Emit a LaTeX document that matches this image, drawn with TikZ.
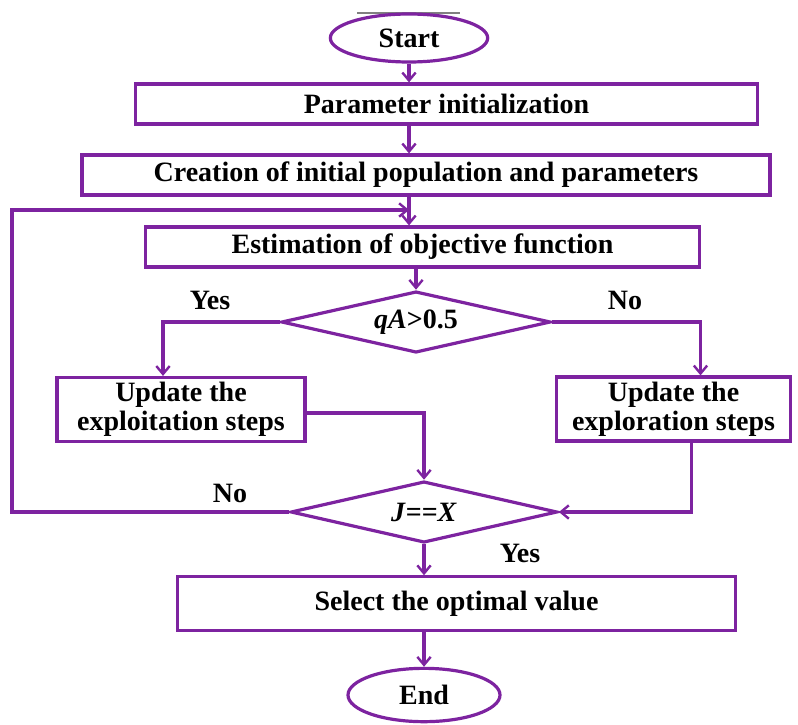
\documentclass[tikz,border=0pt]{standalone}
\usepackage{fontspec}
\setmainfont{Liberation Serif}
\usetikzlibrary{arrows.meta,calc,shapes.geometric}
\definecolor{flowpurple}{RGB}{125,35,160}
\tikzset{
	flowline/.style={draw=flowpurple, line width=2.4pt},
	flowarrow/.style={flowline, -{Straight Barb[length=6pt,width=10pt,line width=1.8pt]}},
	flowbox/.style={flowline, rectangle, inner sep=0pt, align=center, font=\fontsize{21}{22}\selectfont\bfseries},
	term/.style={flowline, ellipse, inner sep=0pt, font=\fontsize{21}{22}\selectfont\bfseries},
	decision/.style={flowline, diamond, aspect=4, inner sep=0pt, font=\fontsize{21}{22}\selectfont\bfseries},
	answer/.style={font=\fontsize{21}{22}\selectfont\bfseries}
}
\begin{document}
\begin{tikzpicture}[x=0.75pt, y=-0.75pt]
			%%%%% START %%%%%
			\useasboundingbox (0, 0) rectangle (798, 724);
			
			\draw[gray, line width=0.8pt] (357, 13) -- (460, 13);
			
			\node[term, minimum width=118pt, minimum height=36pt] (start) at (409, 38) {Start};
			\node[flowbox, minimum width=466pt, minimum height=30pt] (par) at (446.5, 104) {Parameter initialization};
			\node[flowbox, minimum width=516pt, minimum height=30pt] (cre) at (426, 175) {Creation of initial population and parameters};
			\node[flowbox, minimum width=416pt, minimum height=30pt] (est) at (422.5, 247) {Estimation of objective function};
			
			\node[decision, minimum width=202pt, minimum height=46pt] (dec1) at (416, 322) {\textit{qA}\textgreater0.5};
			\node[flowbox, minimum width=186pt, minimum height=48pt] (exploit) at (181, 409.5) {Update the\\exploitation steps};
			\node[flowbox, minimum width=175pt, minimum height=48pt] (explore) at (673.5, 409) {Update the\\exploration steps};
			
			\node[decision, minimum width=200pt, minimum height=46pt] (dec2) at (424, 512) {\textit{J}==\textit{X}};
			\node[flowbox, minimum width=418pt, minimum height=40pt] (sel) at (456.5, 603.5) {Select the optimal value};
			\node[term, minimum width=114pt, minimum height=40pt] (endn) at (424, 695) {End};
			
			\coordinate (join) at (409, 210);
			\coordinate (loop) at (12, 210);
			
			\draw[flowarrow] (start.south) -- (start |- par.north);
			\draw[flowarrow] (start |- par.south) -- (start |- cre.north);
			\draw[flowarrow] (start |- cre.south) -- (start |- est.north);
			\draw[flowarrow] (dec1 |- est.south) -- (dec1.north);
			
			\draw[flowarrow] (dec1.west) -| ($(exploit.north)+(-18, 0)$);
			\draw[flowarrow] (dec1.east) -| ($(explore.north)+(27, 0)$);
			\draw[flowarrow] ($(exploit.east)+(0, 3.5)$) -| (dec2.north);
			\draw[flowarrow] ($(explore.south)+(18, 0)$) |- (dec2.east);
			
			\draw[flowarrow] (dec2.west) -| (loop) -- (join);
			\draw[flowarrow] (dec2.south) -- (dec2.south |- sel.north);
			\draw[flowarrow] (endn |- sel.south) -- (endn.north);
			
			\node[answer] (yes1) at (210, 300) {Yes};
			\node[answer] (no1) at (625, 300) {No};
			\node[answer] (no2) at (230, 493) {No};
			\node[answer] (yes2) at (520, 553) {Yes};
			%%%%% END %%%%%
\end{tikzpicture}
\end{document}
